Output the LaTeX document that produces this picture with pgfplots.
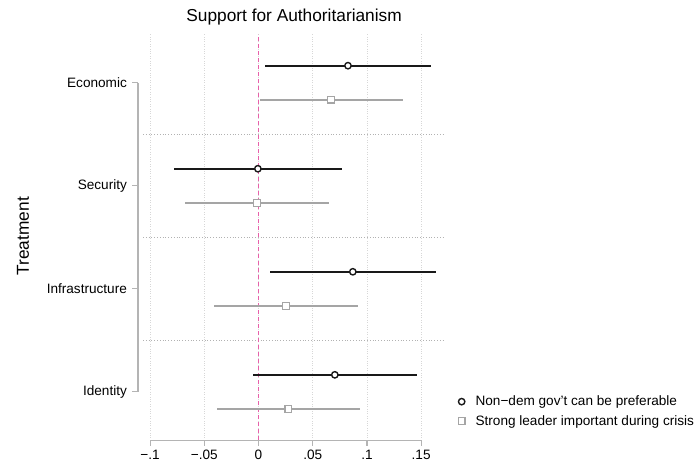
\documentclass[border=0pt]{standalone}
\usepackage{pgfplots}
\pgfplotsset{compat=1.18}
\usepackage{pgfplotstable}
\usepackage{fontspec}
\setmainfont{Liberation Sans}
\definecolor{refpink}{RGB}{232,96,170}
\definecolor{ciblack}{RGB}{25,25,25}
\definecolor{cigrey}{RGB}{165,165,165}
\definecolor{axgrey}{RGB}{180,180,180}
\definecolor{gridgrey}{RGB}{215,215,215}

\pgfplotstableread{
y x ex
3.165 0.0825 0.0765
2.165 -0.0006 0.0774
1.165 0.0870 0.0766
0.165 0.0704 0.0757
}\nondem
\pgfplotstableread{
y x ex
2.835 0.0670 0.0660
1.835 -0.0014 0.0664
0.835 0.0255 0.0665
-0.165 0.0276 0.0661
}\strong

\begin{document}
\begin{tikzpicture}[x=1pt,y=1pt]
\path[use as bounding box] (0,0) rectangle (699,465);
\begin{axis}[
 at={(132,24)}, anchor=south west,
 scale only axis, width=302pt, height=406pt,
 xmin=-0.1065, xmax=0.1721, ymin=-0.47, ymax=3.47,
 axis line style={draw=none},
 major tick length=0pt,
 xtick={-0.1,-0.05,0,0.05,0.1,0.15},
 xticklabels={−.1,−.05,0,.05,.1,.15},
 ytick={0,1,2,3},
 yticklabels={Identity,Infrastructure,Security,Economic},
 ticklabel style={font=\fontsize{13.6}{16}\selectfont},
 xticklabel style={anchor=north, inner sep=0pt, yshift=-10pt},
 yticklabel style={anchor=east, inner sep=0pt, xshift=-16pt},
 xmajorgrids, major grid style={gridgrey, dotted, line width=0.8pt},
 extra y ticks={0.5,1.5,2.5}, extra y tick labels={},
 extra y tick style={grid=major, major grid style={gray!60, dotted, line width=0.8pt}},
 clip=false,
 legend style={draw=none, fill=none, at={(axis description cs:1.043,0.1133)}, anchor=north west,
   font=\fontsize{13.6}{16}\selectfont, legend cell align=left, row sep=5pt, column sep=9pt,
   inner sep=0pt, nodes={inner sep=1.5pt}},
 legend image code/.code={\draw[#1] plot coordinates {(0pt,0pt)};},
]
\addplot[refpink, dash pattern=on 4pt off 3pt, line width=0.9pt, forget plot] coordinates {(0,-0.47) (0,3.47)};
\addplot[draw=none, mark=none, forget plot, error bars/.cd, x dir=both, x explicit, error mark=none,
  error bar style={ciblack, line width=1.9pt}] table[x=x,y=y,x error=ex]{\nondem};
\addplot[draw=none, mark=none, forget plot, error bars/.cd, x dir=both, x explicit, error mark=none,
  error bar style={cigrey, line width=1.9pt}] table[x=x,y=y,x error=ex]{\strong};
\addplot[only marks, mark=*, mark size=3.2pt, mark options={draw=ciblack, fill=white, line width=1.4pt}] table[x=x,y=y]{\nondem};
\addlegendentry{Non−dem gov’t can be preferable}
\addplot[only marks, mark=square*, mark size=3.4pt, mark options={draw=cigrey, fill=white, line width=1.2pt}] table[x=x,y=y]{\strong};
\addlegendentry{Strong leader important during crisis}
\draw[axgrey, line width=1.3pt] (axis cs:-0.1,-0.47) -- (axis cs:0.15,-0.47);
\pgfplotsinvokeforeach{-0.1,-0.05,0,0.05,0.1,0.15}{
  \draw[axgrey, line width=1.2pt] (axis cs:#1,-0.47) -- ([yshift=-6pt]axis cs:#1,-0.47);
}
\draw[axgrey, line width=1.3pt] ([xshift=-5pt]axis cs:-0.1065,0) -- ([xshift=-5pt]axis cs:-0.1065,3);
\pgfplotsinvokeforeach{0,1,2,3}{
  \draw[axgrey, line width=1.2pt] ([xshift=-5pt]axis cs:-0.1065,#1) -- ([xshift=-11pt]axis cs:-0.1065,#1);
}
\node[font=\fontsize{17.3}{20}\selectfont, anchor=base] at ([yshift=13pt]axis description cs:0.5,1) {Support for Authoritarianism};
\node[rotate=90, font=\fontsize{17.3}{20}\selectfont] at ([xshift=-120pt]axis description cs:0,0.5025) {Treatment};
\end{axis}
\end{tikzpicture}
\end{document}
